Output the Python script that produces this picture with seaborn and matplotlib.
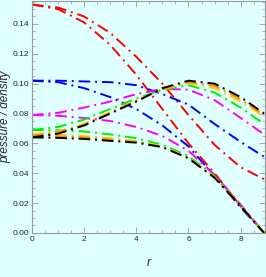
import matplotlib
matplotlib.use("Agg")
import matplotlib.pyplot as plt
import numpy as np
import pandas as pd
import seaborn as sns
from matplotlib.ticker import MultipleLocator

# radial coordinate
r = [0, 1, 2, 3, 4, 5, 6, 7, 8, 8.9]

# curves that rise then fall (upper branch of each colour)
red_a = [0.153, 0.151, 0.145, 0.134, 0.118, 0.100, 0.079, 0.059, 0.044, 0.036]
blue_a = [0.102, 0.102, 0.1015, 0.101, 0.099, 0.093, 0.086, 0.073, 0.061, 0.051]
magenta_a = [0.079, 0.0805, 0.084, 0.088, 0.093, 0.0965, 0.096, 0.089, 0.077, 0.066]
green_a = [0.069, 0.071, 0.076, 0.083, 0.090, 0.096, 0.099, 0.094, 0.084, 0.073]
yellow_a = [0.066, 0.068, 0.073, 0.081, 0.089, 0.096, 0.1005, 0.097, 0.088, 0.078]
orange_a = [0.065, 0.0675, 0.0725, 0.0805, 0.0885, 0.0965, 0.101, 0.0985, 0.0895, 0.079]
black_a = [0.064, 0.0665, 0.072, 0.080, 0.088, 0.097, 0.102, 0.100, 0.091, 0.080]

# curves that fall to zero at the surface (lower branch)
red_b = [0.153, 0.150, 0.141, 0.126, 0.106, 0.083, 0.060, 0.040, 0.018, 0.0]
blue_b = [0.102, 0.101, 0.097, 0.091, 0.083, 0.072, 0.058, 0.038, 0.017, 0.0]
magenta_b = [0.079, 0.0785, 0.077, 0.075, 0.071, 0.065, 0.055, 0.039, 0.019, 0.0]
green_b = [0.069, 0.0688, 0.068, 0.066, 0.0635, 0.059, 0.0515, 0.038, 0.018, 0.0]
yellow_b = [0.066, 0.0657, 0.065, 0.0635, 0.0615, 0.058, 0.0505, 0.0375, 0.018, 0.0]
orange_b = [0.065, 0.0647, 0.064, 0.0625, 0.061, 0.0577, 0.0502, 0.0372, 0.018, 0.0]
black_b = [0.064, 0.0637, 0.063, 0.0617, 0.0605, 0.0575, 0.050, 0.037, 0.018, 0.0]

series = {
    "red_a": red_a, "red_b": red_b,
    "blue_a": blue_a, "blue_b": blue_b,
    "magenta_a": magenta_a, "magenta_b": magenta_b,
    "green_a": green_a, "green_b": green_b,
    "yellow_a": yellow_a, "yellow_b": yellow_b,
    "orange_a": orange_a, "orange_b": orange_b,
    "black_a": black_a, "black_b": black_b,
}
colors = {
    "red": "#ff0000", "blue": "#0000ff", "magenta": "#ff00ff",
    "green": "#00ee00", "yellow": "#ffd000", "orange": "#ff8c00", "black": "#000000",
}

df = pd.concat(
    [pd.DataFrame({"r": r, "value": v, "series": k}) for k, v in series.items()],
    ignore_index=True,
)
palette = {k: colors[k.split("_")[0]] for k in series}
dashes = {k: (6, 2.5, 1, 2.5) for k in series}

bg = "#e0ffff"
sns.set_style("ticks")
fig = plt.figure(figsize=(2.66, 2.77), dpi=100, facecolor=bg)
ax = fig.add_axes([0.12, 0.159, 0.876, 0.837], facecolor=bg)

sns.lineplot(data=df, x="r", y="value", hue="series", style="series",
             palette=palette, dashes=dashes, sort=False, linewidth=1.4,
             legend=False, ax=ax)

ax.set_xlim(0, 8.93)
ax.set_ylim(0, 0.1553)
ax.xaxis.set_major_locator(MultipleLocator(2))
ax.xaxis.set_minor_locator(MultipleLocator(0.5))
ax.yaxis.set_major_locator(MultipleLocator(0.02))
ax.yaxis.set_minor_locator(MultipleLocator(0.005))
ax.yaxis.set_major_formatter(matplotlib.ticker.FormatStrFormatter("%.2f"))
ax.tick_params(which="both", direction="in", top=True, right=True,
               color="#999999", labelsize=6, pad=2,
               labelfontfamily="Liberation Sans")
ax.tick_params(which="major", length=4, width=0.6)
ax.tick_params(which="minor", length=2, width=0.5)
for s in ax.spines.values():
    s.set_color("#999999")
    s.set_linewidth(0.8)

ax.set_xlabel("r", fontsize=9, style="italic", labelpad=10,
              family="Liberation Sans")
ax.set_ylabel("pressure / density", fontsize=8.5, style="italic",
              family="Liberation Sans")
ax.yaxis.set_label_coords(-0.09, 0.5)

fig.savefig("out.png", dpi=100, facecolor=bg)
